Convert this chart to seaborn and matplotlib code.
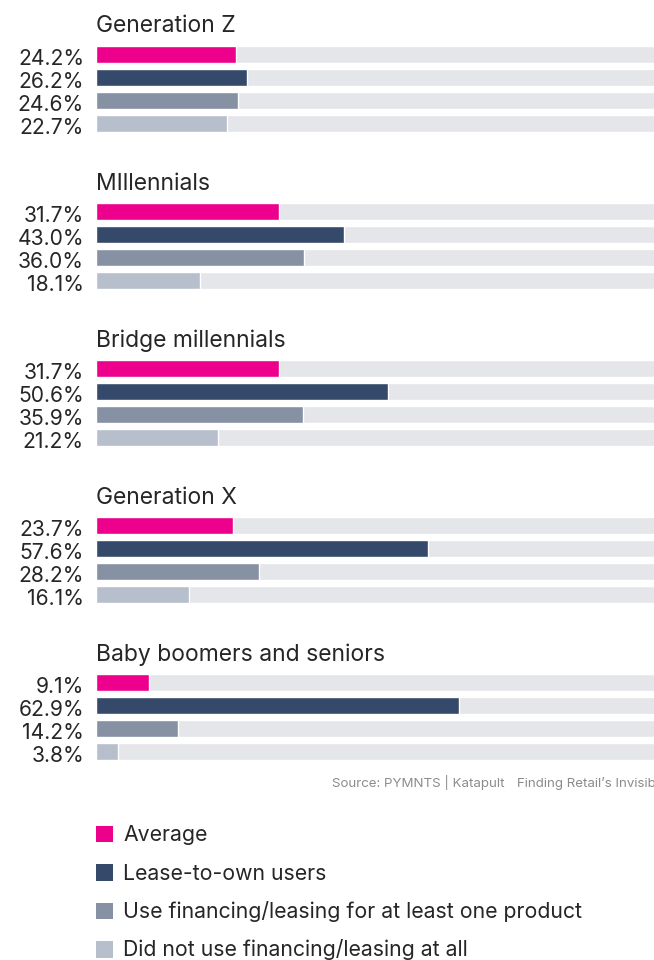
import matplotlib
matplotlib.use("Agg")
import matplotlib.pyplot as plt
import seaborn as sns
from matplotlib.patches import Rectangle

# ---- data -------------------------------------------------------------
generations = ["Generation Z", "MIllennials", "Bridge millennials",
               "Generation X", "Baby boomers and seniors"]
series = ["Average", "Lease-to-own users",
          "Use financing/leasing for at least one product",
          "Did not use financing/leasing at all"]
gen_z = [24.2, 26.2, 24.6, 22.7]
millennials = [31.7, 43.0, 36.0, 18.1]
bridge_millennials = [31.7, 50.6, 35.9, 21.2]
generation_x = [23.7, 57.6, 28.2, 16.1]
boomers_seniors = [9.1, 62.9, 14.2, 3.8]
group_values = [gen_z, millennials, bridge_millennials, generation_x, boomers_seniors]

colors = ["#EC008C", "#354A6B", "#8791A4", "#B8BFCC"]
track_color = "#E5E6E9"
text_color = "#262626"
source_text = "Source: PYMNTS | Katapult"
report_text = "Finding Retail\u2019s Invisible Shoppers"

# ---- figure -----------------------------------------------------------
sns.set_theme(style="white")
plt.rcParams["font.family"] = ["Inter", "DejaVu Sans"]

W, H = 654, 960
fig = plt.figure(figsize=(W / 100, H / 100), dpi=100)
fig.patch.set_facecolor("white")


def fx(px):
    return px / W


def fy(py):
    return 1 - py / H


group_pitch = 157.0
row_pitch = 23.0
left_px = 96
full_px = 577  # width of 0..100 %

for gi, (title, vals) in enumerate(zip(generations, group_values)):
    top = 43.2 + group_pitch * gi
    height = 4 * row_pitch
    ax = fig.add_axes([fx(left_px), fy(top + height), full_px / W, height / H])
    sns.barplot(x=[100] * 4, y=series, color=track_color, saturation=1,
                width=0.76, orient="h", ax=ax)
    sns.barplot(x=vals, y=series, hue=series, palette=colors, saturation=1,
                width=0.76, orient="h", legend=False, ax=ax)
    ax.set_xlim(0, 100)
    ax.set_ylim(3.5, -0.5)
    ax.axis("off")
    for i, v in enumerate(vals):
        ax.annotate(f"{v:.1f}%", xy=(0, i), xytext=(-12, -10.3),
                    textcoords="offset pixels", ha="right", va="baseline",
                    fontsize=15.2, color=text_color)
    fig.text(fx(96), fy(32.5 + group_pitch * gi), title, ha="left",
             va="baseline", fontsize=16.5, color=text_color)

# source line
fig.text(fx(332), fy(787), source_text, ha="left", va="baseline",
         fontsize=9.6, color="#8C8C8C")
fig.text(fx(517), fy(787), report_text, ha="left", va="baseline",
         fontsize=9.6, color="#8C8C8C")

# legend
for k, (lab, c) in enumerate(zip(series, colors)):
    cy = 834.3 + 38.4 * k
    fig.patches.append(Rectangle((fx(96), fy(cy + 8)), 16.5 / W, 16.5 / H,
                                 transform=fig.transFigure, color=c,
                                 linewidth=0))
    fig.text(fx(123), fy(cy + 7), lab, ha="left", va="baseline",
             fontsize=15.3, color=text_color)

fig.savefig("out.png", dpi=100, facecolor="white")
